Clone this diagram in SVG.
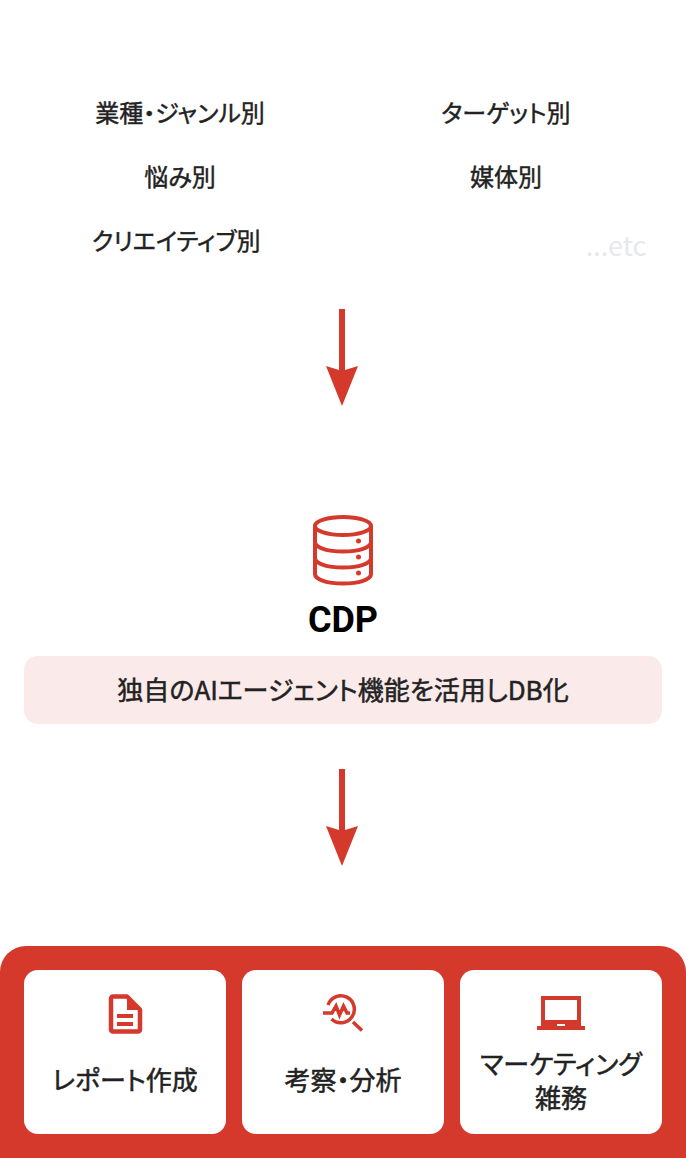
<svg xmlns="http://www.w3.org/2000/svg" width="686" height="1158" viewBox="0 0 686 1158">
<style>
text{font-family:"Noto Sans CJK JP","Noto Sans",sans-serif;text-anchor:middle;font-feature-settings:"palt"}
.t{font-size:24px;font-weight:400;fill:#222;stroke:#222;stroke-width:.45px}
.c{font-size:26px;font-weight:400;fill:#222;stroke:#222;stroke-width:.5px}
.r{fill:#d5392b}
.l{fill:none;stroke:#d5392b}
</style>
<defs><path id="arrow" class="r" d="M339 0h6v61l13-4-16 40-16-40 13 4z"/></defs>
<rect width="686" height="1158" fill="#fff"/>
<g id="categories">
<text class="t" x="180" y="122">業種・ジャンル別</text>
<text class="t" x="506" y="122">ターゲット別</text>
<text class="t" x="180" y="186">悩み別</text>
<text class="t" x="506" y="186">媒体別</text>
<text class="t" x="176" y="250">クリエイティブ別</text>
<text x="616" y="256" font-size="27" fill="#e6e8ec">...etc</text>
</g>
<g id="connectors">
<use href="#arrow" y="309"/>
<use href="#arrow" y="769"/>
</g>
<g id="cdp">
<g class="l" stroke-width="4">
<ellipse cx="343" cy="526" rx="28" ry="9"/>
<path d="M315 526v48c0 5.500 12 9.500 28 9.500s28-4 28-9.500v-48M315 542c0 5.500 12 9.500 28 9.500s28-4 28-9.500M315 558c0 5.500 12 9.500 28 9.500s28-4 28-9.500"/>
</g>
<circle class="r" cx="358.500" cy="541" r="2.500"/><circle class="r" cx="358.500" cy="557" r="2.500"/><circle class="r" cx="358.500" cy="573" r="2.500"/>
<text x="343" y="632" font-size="36" font-weight="700" fill="#000" style="font-family:Roboto,'Noto Sans',sans-serif">CDP</text>
</g>
<g id="db-note">
<rect x="24" y="656" width="638" height="68" rx="14" fill="#faebea"/>
<text class="c" x="343" y="700">独自のAIエージェント機能を活用しDB化</text>
</g>
<g id="outputs">
<path class="r" d="M26 946h634a26 26 0 0 1 26 26v186H0V972a26 26 0 0 1 26-26z"/>
</g>
<g id="report">
<rect x="24" y="970" width="202" height="164" rx="14" fill="#fff"/>
<path class="l" stroke-width="4.500" stroke-linejoin="round" d="M113 996.500h14l13 13v20a2 2 0 0 1-2 2h-25a2 2 0 0 1-2-2v-31a2 2 0 0 1 2-2z"/>
<path class="r" d="M127 995l15 15h-15zM117 1014h16v4h-16zM117 1022h16v4h-16z"/>
<text class="c" x="125" y="1090">レポート作成</text>
</g>
<g id="analysis">
<rect x="242" y="970" width="202" height="164" rx="14" fill="#fff"/>
<path class="l" stroke-width="3.500" d="M328 1005a13.500 13.500 0 1 1 3.500 14M353 1022l9 8.500M323 1013h9l4-7 3.500 9 4-9 3.500 7h3"/>
<text class="c" x="343" y="1090">考察・分析</text>
</g>
<g id="marketing">
<rect x="460" y="970" width="202" height="164" rx="14" fill="#fff"/>
<path class="r" fill-rule="evenodd" d="M541 996h40v30h4v4h-48v-4h4zM545 1000v20h32v-20zM557 1024v2h8v-2z"/>
<text class="c" x="561" y="1074">マーケティング</text>
<text class="c" x="561" y="1108">雑務</text>
</g>
</svg>
